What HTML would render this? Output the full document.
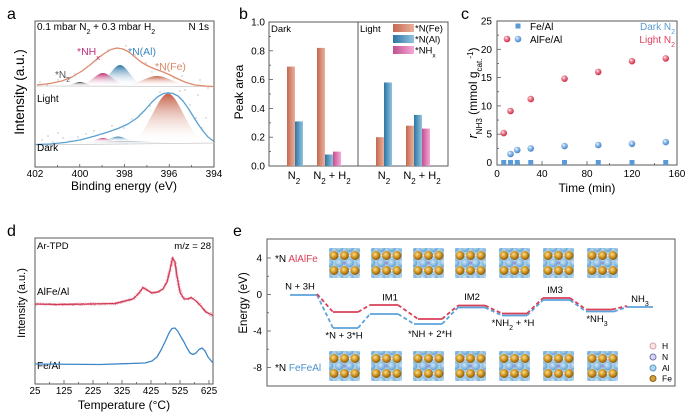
<!DOCTYPE html>
<html><head><meta charset="utf-8">
<style>
html,body{margin:0;padding:0;background:#fff;}
svg{display:block;font-family:"Liberation Sans",Arial,sans-serif;}
</style></head>
<body>
<svg width="700" height="419" viewBox="0 0 700 419" xmlns="http://www.w3.org/2000/svg">
<defs>
  <linearGradient id="fFe" x1="0" y1="0" x2="0" y2="1"><stop offset="0" stop-color="#c45f45"/><stop offset="1" stop-color="#fff" stop-opacity="0"/></linearGradient>
  <linearGradient id="fAl" x1="0" y1="0" x2="0" y2="1"><stop offset="0" stop-color="#2a76a8"/><stop offset="1" stop-color="#fff" stop-opacity="0"/></linearGradient>
  <linearGradient id="fNH" x1="0" y1="0" x2="0" y2="1"><stop offset="0" stop-color="#c02a6c"/><stop offset="1" stop-color="#fff" stop-opacity="0"/></linearGradient>
  <linearGradient id="fN2" x1="0" y1="0" x2="0" y2="1"><stop offset="0" stop-color="#3a3a3a"/><stop offset="1" stop-color="#fff" stop-opacity="0"/></linearGradient>
  <linearGradient id="fGr" x1="0" y1="0" x2="0" y2="1"><stop offset="0" stop-color="#9aa8b4"/><stop offset="1" stop-color="#fff" stop-opacity="0"/></linearGradient>
  <linearGradient id="bFe" x1="0" y1="0" x2="1" y2="0"><stop offset="0" stop-color="#c46850"/><stop offset="1" stop-color="#eab09c"/></linearGradient>
  <linearGradient id="bAl" x1="0" y1="0" x2="1" y2="0"><stop offset="0" stop-color="#2c76a4"/><stop offset="1" stop-color="#92c3df"/></linearGradient>
  <linearGradient id="bNH" x1="0" y1="0" x2="1" y2="0"><stop offset="0" stop-color="#c0508e"/><stop offset="1" stop-color="#f7a8d8"/></linearGradient>
  <radialGradient id="sR" cx="0.38" cy="0.35" r="0.7"><stop offset="0" stop-color="#fff"/><stop offset="0.3" stop-color="#f0909e"/><stop offset="1" stop-color="#c8203c"/></radialGradient>
  <radialGradient id="sB" cx="0.38" cy="0.35" r="0.7"><stop offset="0" stop-color="#fff"/><stop offset="0.3" stop-color="#a0c8ee"/><stop offset="1" stop-color="#3a7cc4"/></radialGradient>
  <radialGradient id="gFeA" cx="0.4" cy="0.38" r="0.62"><stop offset="0" stop-color="#fbe08a"/><stop offset="0.5" stop-color="#d49a28"/><stop offset="1" stop-color="#8a5a0a"/></radialGradient>
  <radialGradient id="gAlA" cx="0.4" cy="0.38" r="0.65"><stop offset="0" stop-color="#cfe6f6"/><stop offset="1" stop-color="#5f9fd0"/></radialGradient>
  <filter id="noise" x="-5%" y="-20%" width="110%" height="140%">
    <feTurbulence type="fractalNoise" baseFrequency="0.9" numOctaves="1" seed="3"/>
    <feDisplacementMap in="SourceGraphic" scale="4" xChannelSelector="R" yChannelSelector="G"/>
  </filter>
  <symbol id="xt" viewBox="0 0 31 30">
    <rect x="0" y="0" width="31" height="30" fill="#a8cde8"/>
    <g fill="url(#gAlA)">
      <circle cx="0" cy="15" r="4.2"/><circle cx="10.3" cy="15" r="4.2"/><circle cx="20.7" cy="15" r="4.2"/><circle cx="31" cy="15" r="4.2"/>
      <circle cx="10.3" cy="0" r="4"/><circle cx="20.7" cy="0" r="4"/><circle cx="10.3" cy="30" r="4"/><circle cx="20.7" cy="30" r="4"/>
      <circle cx="0" cy="0" r="3.5"/><circle cx="31" cy="0" r="3.5"/><circle cx="0" cy="30" r="3.5"/><circle cx="31" cy="30" r="3.5"/>
    </g>
    <g fill="url(#gFeA)">
      <circle cx="5" cy="7.5" r="4.5"/><circle cx="15.5" cy="7.5" r="4.5"/><circle cx="26" cy="7.5" r="4.5"/>
      <circle cx="5" cy="22.5" r="4.5"/><circle cx="15.5" cy="22.5" r="4.5"/><circle cx="26" cy="22.5" r="4.5"/>
    </g>
    <g fill="#f6e2e6">
      <circle cx="10.3" cy="7.5" r="1"/><circle cx="20.7" cy="7.5" r="1"/><circle cx="10.3" cy="22.5" r="1"/><circle cx="20.7" cy="22.5" r="1"/>
    </g>
    <circle cx="15.5" cy="15" r="1.6" fill="#9a96d8"/>
  </symbol>
</defs>

<!-- ================= Panel a ================= -->
<text x="7" y="19" font-size="16">a</text>
<rect x="35" y="21" width="179" height="146" fill="none" stroke="#5a5a5a" stroke-width="1"/>
<line x1="35" y1="86" x2="214" y2="86.5" stroke="#c8c8c8" stroke-width="0.8"/>
<line x1="35" y1="145" x2="214" y2="143" stroke="#c8c8c8" stroke-width="0.8"/>
<path d="M118,86 C136.2,86 146.6,76 157,76 S177.8,86 196,86 Z" fill="url(#fFe)"/>
<path d="M62,86 C70.4,86 75.2,82 80,82 S89.6,86 98,86 Z" fill="url(#fN2)"/>
<path d="M76,86 C88.6,86 95.8,73 103,73 S117.4,86 130,86 Z" fill="url(#fNH)"/>
<path d="M93,86 C105.6,86 112.8,65 120,65 S134.4,86 147,86 Z" fill="url(#fAl)"/>
<polyline fill="none" stroke="#e08a6e" stroke-width="1.3" stroke-linejoin="round" points="37,85 50,83.5 62,81 72,77 82,71 90,65 98,58 105,53 111,49.5 117,48 123,49 129,52 135,57 141,62 148,66 155,69 162,71.5 170,75 178,79 186,82.5 195,85 205,86 214,86.5"/>
<path d="M50,143.5 C85,143.5 105,141 125,141 S165,143.5 200,143.5 Z" fill="url(#fGr)"/>
<path d="M126,143.5 C145.6,143.5 156.8,93.5 168,93.5 S190.4,143.5 210,143.5 Z" fill="url(#fFe)"/>
<path d="M85,142 C93.4,142 98.2,138 103,138 S112.6,142 121,142 Z" fill="url(#fNH)"/>
<path d="M97,141.5 C106.8,141.5 112.4,136.5 118,136.5 S129.2,141.5 139,141.5 Z" fill="url(#fAl)"/>
<polyline fill="none" stroke="#5ba0d2" stroke-width="1.3" stroke-linejoin="round" points="35,144.5 50,144 65,142.5 80,140 95,136 108,132 118,128.5 128,124 137,118 145,110 152,102 158,96.5 163,93.8 168,92.8 173,93.5 178,96 183,101 188,108 193,116 198,124 203,131 208,137 214,141.5"/>
<g fill="#b8b8b8">
  <circle cx="40" cy="82" r="0.7"/><circle cx="47" cy="85" r="0.7"/><circle cx="58" cy="80" r="0.7"/><circle cx="66" cy="77" r="0.7"/>
  <circle cx="75" cy="74" r="0.7"/><circle cx="88" cy="66" r="0.7"/><circle cx="96" cy="61" r="0.7"/><circle cx="108" cy="50" r="0.7"/>
  <circle cx="126" cy="46" r="0.7"/><circle cx="135" cy="55" r="0.7"/><circle cx="146" cy="63" r="0.7"/><circle cx="152" cy="72" r="0.7"/>
  <circle cx="165" cy="70" r="0.7"/><circle cx="174" cy="78" r="0.7"/><circle cx="182" cy="76" r="0.7"/><circle cx="190" cy="84" r="0.7"/>
  <circle cx="200" cy="80" r="0.7"/><circle cx="208" cy="88" r="0.7"/><circle cx="198" cy="95" r="0.7"/><circle cx="185" cy="90" r="0.7"/>
  <circle cx="42" cy="140" r="0.7"/><circle cx="48" cy="136" r="0.7"/><circle cx="53" cy="142" r="0.7"/><circle cx="58" cy="133" r="0.7"/>
  <circle cx="63" cy="138" r="0.7"/><circle cx="70" cy="141" r="0.7"/><circle cx="78" cy="137" r="0.7"/><circle cx="86" cy="134" r="0.7"/>
  <circle cx="94" cy="131" r="0.7"/><circle cx="100" cy="134" r="0.7"/><circle cx="112" cy="126" r="0.7"/><circle cx="124" cy="128" r="0.7"/>
  <circle cx="132" cy="119" r="0.7"/><circle cx="140" cy="114" r="0.7"/><circle cx="150" cy="106" r="0.7"/><circle cx="180" cy="91" r="0.7"/>
  <circle cx="190" cy="105" r="0.7"/><circle cx="196" cy="118" r="0.7"/><circle cx="202" cy="128" r="0.7"/><circle cx="206" cy="118" r="0.7"/>
  <circle cx="210" cy="138" r="0.7"/><circle cx="160" cy="92" r="0.7"/>
</g>
<text x="37" y="30" font-size="10">0.1 mbar N<tspan font-size="7" baseline-shift="sub">2</tspan> + 0.3 mbar H<tspan font-size="7" baseline-shift="sub">2</tspan></text>
<text x="209" y="30" font-size="10" text-anchor="end">N 1s</text>
<text x="77" y="55" font-size="10.5" fill="#c2307a">*NH<tspan font-size="7.5" baseline-shift="sub">x</tspan></text>
<text x="128" y="55" font-size="10.5" fill="#3a86c0">*N(Al)</text>
<text x="155" y="70" font-size="10.5" fill="#d88868">*N(Fe)</text>
<text x="55" y="78" font-size="10" fill="#555">*N<tspan font-size="7" baseline-shift="sub">2</tspan></text>
<text x="37" y="102" font-size="10">Light</text>
<text x="37" y="151" font-size="10">Dark</text>
<g stroke="#5a5a5a" stroke-width="0.8">
  <line x1="57.4" y1="167" x2="57.4" y2="165"/><line x1="79.75" y1="167" x2="79.75" y2="164"/><line x1="102.1" y1="167" x2="102.1" y2="165"/>
  <line x1="124.5" y1="167" x2="124.5" y2="164"/><line x1="146.9" y1="167" x2="146.9" y2="165"/><line x1="169.25" y1="167" x2="169.25" y2="164"/>
  <line x1="191.6" y1="167" x2="191.6" y2="165"/>
</g>
<g font-size="10" text-anchor="middle">
  <text x="35" y="177">402</text><text x="80" y="177">400</text><text x="124.5" y="177">398</text><text x="169" y="177">396</text><text x="214" y="177">394</text>
</g>
<text x="124" y="190" font-size="12" text-anchor="middle">Binding energy (eV)</text>
<text transform="translate(24,92) rotate(-90)" font-size="13.5" text-anchor="middle">Intensity (a.u.)</text>

<!-- ================= Panel b ================= -->
<text x="239" y="19" font-size="16">b</text>
<rect x="269" y="22" width="179" height="144" fill="none" stroke="#5a5a5a" stroke-width="1"/>
<line x1="358" y1="22" x2="358" y2="166" stroke="#5a5a5a" stroke-width="1"/>
<rect x="287" y="66.6" width="8" height="99.4" fill="url(#bFe)"/>
<rect x="295" y="121.4" width="8" height="44.6" fill="url(#bAl)"/>
<rect x="317" y="47.9" width="8" height="118.1" fill="url(#bFe)"/>
<rect x="325" y="154.5" width="8" height="11.5" fill="url(#bAl)"/>
<rect x="333" y="151.6" width="8" height="14.4" fill="url(#bNH)"/>
<rect x="376" y="137.2" width="8" height="28.8" fill="url(#bFe)"/>
<rect x="384" y="82.5" width="8" height="83.5" fill="url(#bAl)"/>
<rect x="406" y="125.7" width="8" height="40.3" fill="url(#bFe)"/>
<rect x="414" y="114.9" width="8" height="51.1" fill="url(#bAl)"/>
<rect x="422" y="128.6" width="8" height="37.4" fill="url(#bNH)"/>
<g stroke="#5a5a5a" stroke-width="0.8">
  <line x1="269" y1="137.2" x2="273" y2="137.2"/><line x1="269" y1="108.4" x2="273" y2="108.4"/><line x1="269" y1="79.6" x2="273" y2="79.6"/><line x1="269" y1="50.8" x2="273" y2="50.8"/>
  <line x1="269" y1="151.6" x2="271" y2="151.6"/><line x1="269" y1="122.8" x2="271" y2="122.8"/><line x1="269" y1="94" x2="271" y2="94"/><line x1="269" y1="65.2" x2="271" y2="65.2"/><line x1="269" y1="36.4" x2="271" y2="36.4"/>
</g>
<g font-size="10" text-anchor="end">
  <text x="265" y="169.5">0.0</text><text x="265" y="140.7">0.2</text><text x="265" y="111.9">0.4</text><text x="265" y="83.1">0.6</text><text x="265" y="54.3">0.8</text><text x="265" y="25.5">1.0</text>
</g>
<text transform="translate(243,92) rotate(-90)" font-size="12" text-anchor="middle">Peak area</text>
<text x="271" y="32" font-size="9.5">Dark</text>
<text x="360" y="32" font-size="9.5">Light</text>
<rect x="393" y="24" width="21" height="8" fill="url(#bFe)"/>
<rect x="393" y="35" width="21" height="8" fill="url(#bAl)"/>
<rect x="393" y="46" width="21" height="8" fill="url(#bNH)"/>
<text x="415" y="31.5" font-size="9.5">*N(Fe)</text>
<text x="415" y="42.5" font-size="9.5">*N(Al)</text>
<text x="415" y="53.5" font-size="9.5">*NH<tspan font-size="6.5" baseline-shift="sub">x</tspan></text>
<g font-size="11" text-anchor="middle">
  <text x="294" y="179">N<tspan font-size="8" baseline-shift="sub">2</tspan></text>
  <text x="332" y="179">N<tspan font-size="8" baseline-shift="sub">2</tspan> + H<tspan font-size="8" baseline-shift="sub">2</tspan></text>
  <text x="384" y="179">N<tspan font-size="8" baseline-shift="sub">2</tspan></text>
  <text x="422" y="179">N<tspan font-size="8" baseline-shift="sub">2</tspan> + H<tspan font-size="8" baseline-shift="sub">2</tspan></text>
</g>

<!-- ================= Panel c ================= -->
<text x="461" y="19" font-size="16">c</text>
<rect x="497" y="21" width="180" height="144" fill="none" stroke="#5a5a5a" stroke-width="1"/>
<g stroke="#5a5a5a" stroke-width="0.8">
  <line x1="497" y1="134.2" x2="501" y2="134.2"/><line x1="497" y1="105.9" x2="501" y2="105.9"/><line x1="497" y1="77.6" x2="501" y2="77.6"/><line x1="497" y1="49.3" x2="501" y2="49.3"/>
  <line x1="497" y1="148.35" x2="499" y2="148.35"/><line x1="497" y1="120.05" x2="499" y2="120.05"/><line x1="497" y1="91.75" x2="499" y2="91.75"/><line x1="497" y1="63.45" x2="499" y2="63.45"/><line x1="497" y1="35.15" x2="499" y2="35.15"/>
  <line x1="542" y1="165" x2="542" y2="161"/><line x1="587" y1="165" x2="587" y2="161"/><line x1="632" y1="165" x2="632" y2="161"/>
  <line x1="519.5" y1="165" x2="519.5" y2="163"/><line x1="564.5" y1="165" x2="564.5" y2="163"/><line x1="609.5" y1="165" x2="609.5" y2="163"/><line x1="654.5" y1="165" x2="654.5" y2="163"/>
</g>
<g font-size="10" text-anchor="end">
  <text x="492" y="166">0</text><text x="492" y="137.7">5</text><text x="492" y="109.4">10</text><text x="492" y="81.1">15</text><text x="492" y="52.8">20</text><text x="492" y="24.5">25</text>
</g>
<g font-size="10" text-anchor="middle">
  <text x="497" y="177">0</text><text x="542" y="177">40</text><text x="587" y="177">80</text><text x="632" y="177">120</text><text x="677" y="177">160</text>
</g>
<text x="587" y="192" font-size="12" text-anchor="middle">Time (min)</text>
<text transform="translate(477,93) rotate(-90)" font-size="12" text-anchor="middle"><tspan font-style="italic" font-size="13">r</tspan><tspan font-size="8" baseline-shift="sub">NH3</tspan> (mmol g<tspan font-size="8" baseline-shift="sub">cat.</tspan><tspan font-size="8" baseline-shift="super">-1</tspan>)</text>
<g fill="#5b9bd5">
  <rect x="501.25" y="160" width="5" height="5"/><rect x="508" y="160" width="5" height="5"/><rect x="514.75" y="160" width="5" height="5"/><rect x="528.25" y="160" width="5" height="5"/>
  <rect x="562" y="160" width="5" height="5"/><rect x="595.75" y="160" width="5" height="5"/><rect x="629.5" y="160" width="5" height="5"/><rect x="663.25" y="160" width="5" height="5"/>
</g>
<g fill="url(#sR)">
  <circle cx="503.75" cy="133.1" r="3.3"/><circle cx="510.5" cy="111" r="3.3"/><circle cx="530.75" cy="99.1" r="3.3"/><circle cx="564.5" cy="78.7" r="3.3"/>
  <circle cx="598.25" cy="71.9" r="3.3"/><circle cx="632" cy="61.2" r="3.3"/><circle cx="665.75" cy="58.4" r="3.3"/>
  <circle cx="507" cy="39" r="3.3"/>
</g>
<g fill="url(#sB)">
  <circle cx="510.5" cy="154" r="3.3"/><circle cx="517.25" cy="150" r="3.3"/><circle cx="530.75" cy="148.4" r="3.3"/><circle cx="564.5" cy="146.1" r="3.3"/>
  <circle cx="598.25" cy="145" r="3.3"/><circle cx="632" cy="143.8" r="3.3"/><circle cx="665.75" cy="142.1" r="3.3"/>
  <circle cx="518" cy="39" r="3.3"/>
</g>
<rect x="515.5" y="23.5" width="5" height="5" fill="#5b9bd5"/>
<text x="530" y="30" font-size="10">Fe/Al</text>
<text x="530" y="43" font-size="10">AlFe/Al</text>
<text x="675" y="30" font-size="10" text-anchor="end" fill="#5b9bd5">Dark N<tspan font-size="7" baseline-shift="sub">2</tspan></text>
<text x="675" y="43" font-size="10" text-anchor="end" fill="#e0405e">Light N<tspan font-size="7" baseline-shift="sub">2</tspan></text>

<!-- ================= Panel d ================= -->
<text x="7" y="236" font-size="16">d</text>
<rect x="35" y="238" width="178" height="146" fill="none" stroke="#5a5a5a" stroke-width="1"/>
<g stroke="#5a5a5a" stroke-width="0.8">
  <line x1="64" y1="384" x2="64" y2="380"/><line x1="93" y1="384" x2="93" y2="380"/><line x1="122" y1="384" x2="122" y2="380"/><line x1="151" y1="384" x2="151" y2="380"/><line x1="180" y1="384" x2="180" y2="380"/><line x1="209" y1="384" x2="209" y2="380"/>
  <line x1="49.5" y1="384" x2="49.5" y2="382"/><line x1="78.5" y1="384" x2="78.5" y2="382"/><line x1="107.5" y1="384" x2="107.5" y2="382"/><line x1="136.5" y1="384" x2="136.5" y2="382"/><line x1="165.5" y1="384" x2="165.5" y2="382"/><line x1="194.5" y1="384" x2="194.5" y2="382"/>
</g>
<g font-size="9.8" text-anchor="middle">
  <text x="35" y="394">25</text><text x="64" y="394">125</text><text x="93" y="394">225</text><text x="122" y="394">325</text><text x="151" y="394">425</text><text x="180" y="394">525</text><text x="209" y="394">625</text>
</g>
<text x="124" y="409" font-size="12" text-anchor="middle">Temperature (°C)</text>
<text transform="translate(25,303) rotate(-90)" font-size="11" text-anchor="middle">Intensity (a.u.)</text>
<text x="37" y="249" font-size="9.5">Ar-TPD</text>
<text x="211" y="249" font-size="9.5" text-anchor="end">m/z = 28</text>
<text x="37" y="295" font-size="10">AlFe/Al</text>
<text x="37" y="369" font-size="10">Fe/Al</text>
<polyline fill="none" stroke="#e07a8e" stroke-width="2.2" stroke-linejoin="round" opacity="0.7" filter="url(#noise)" points="35,304 60,304.5 90,304 115,303.5 125,301 133,299 139,293 143,287.5 147,290 152,293 158,292 163,289 167,282 170,270 172.5,258 175,262 177,276 180,292 184,299 188,299 191,297.5 195,300 200,305 206,312 213,315.5"/>
<polyline fill="none" stroke="#d23c58" stroke-width="1.2" stroke-linejoin="round" points="35,304 60,304.5 90,304 115,303.5 125,301 133,299 139,293 143,287.5 147,290 152,293 158,292 163,289 167,282 170,270 172.5,258 175,262 177,276 180,292 184,299 188,299 191,297.5 195,300 200,305 206,312 213,315.5"/>
<polyline fill="none" stroke="#3e86c8" stroke-width="1.3" stroke-linejoin="round" points="35,364 100,364.5 130,363.5 145,363 152,361 157,357 161,350 165,342 169,333 172,328.5 175,328 178,331.5 181,337 184,342 187,348 190,353 193,354.5 196,353 199,349.5 202,348 205,351 208,357 213,363"/>

<!-- ================= Panel e ================= -->
<text x="233" y="236" font-size="16">e</text>
<rect x="267" y="239" width="408" height="147" fill="none" stroke="#5a5a5a" stroke-width="1"/>
<g stroke="#5a5a5a" stroke-width="0.8">
  <line x1="267" y1="258" x2="271" y2="258"/><line x1="267" y1="294.5" x2="271" y2="294.5"/><line x1="267" y1="331" x2="271" y2="331"/><line x1="267" y1="367.5" x2="271" y2="367.5"/>
  <line x1="267" y1="276.25" x2="269" y2="276.25"/><line x1="267" y1="312.75" x2="269" y2="312.75"/><line x1="267" y1="349.25" x2="269" y2="349.25"/>
</g>
<g font-size="10" text-anchor="end">
  <text x="262" y="261.5">4</text><text x="262" y="298">0</text><text x="262" y="334.5">-4</text><text x="262" y="371">-8</text>
</g>
<text transform="translate(247,303) rotate(-90)" font-size="11.5" text-anchor="middle">Energy (eV)</text>
<text x="275" y="262" font-size="10">*N <tspan fill="#d8405a">AlAlFe</tspan></text>
<text x="275" y="371" font-size="10">*N <tspan fill="#4a90d0">FeFeAl</tspan></text>
<use href="#xt" x="329" y="248" width="31" height="30"/>
<use href="#xt" x="371" y="248" width="31" height="30"/>
<use href="#xt" x="413" y="248" width="31" height="30"/>
<use href="#xt" x="455" y="248" width="31" height="30"/>
<use href="#xt" x="499" y="248" width="31" height="30"/>
<use href="#xt" x="543" y="248" width="31" height="30"/>
<use href="#xt" x="587" y="248" width="31" height="30"/>
<use href="#xt" x="329" y="351" width="31" height="30"/>
<use href="#xt" x="371" y="351" width="31" height="30"/>
<use href="#xt" x="413" y="351" width="31" height="30"/>
<use href="#xt" x="455" y="351" width="31" height="30"/>
<use href="#xt" x="499" y="351" width="31" height="30"/>
<use href="#xt" x="543" y="351" width="31" height="30"/>
<use href="#xt" x="587" y="351" width="31" height="30"/>
<g stroke="#5ba3dc" stroke-width="1.8" fill="none">
  <line x1="290" y1="295" x2="317" y2="295"/>
  <line x1="333" y1="328" x2="358" y2="328"/>
  <line x1="370" y1="314" x2="398" y2="314"/>
  <line x1="414" y1="324" x2="442" y2="324"/>
  <line x1="458" y1="307.5" x2="485" y2="307.5"/>
  <line x1="502" y1="315.5" x2="527" y2="315.5"/>
  <line x1="543" y1="300" x2="570" y2="300"/>
  <line x1="586" y1="311.5" x2="614" y2="311.5"/>
  <line x1="627" y1="307" x2="653" y2="307"/>
  <polyline stroke-dasharray="4 2.5" points="317,295 333,328"/>
  <polyline stroke-dasharray="4 2.5" points="358,328 370,314"/>
  <polyline stroke-dasharray="4 2.5" points="398,314 414,324"/>
  <polyline stroke-dasharray="4 2.5" points="442,324 458,307.5"/>
  <polyline stroke-dasharray="4 2.5" points="485,307.5 502,315.5"/>
  <polyline stroke-dasharray="4 2.5" points="527,315.5 543,300"/>
  <polyline stroke-dasharray="4 2.5" points="570,300 586,311.5"/>
  <polyline stroke-dasharray="4 2.5" points="614,311.5 627,307"/>
</g>
<g stroke="#d8405a" stroke-width="1.8" fill="none">
  <line x1="333" y1="312" x2="358" y2="312"/>
  <line x1="370" y1="305" x2="398" y2="305"/>
  <line x1="418" y1="319" x2="442" y2="319"/>
  <line x1="458" y1="305.5" x2="485" y2="305.5"/>
  <line x1="502" y1="313.5" x2="527" y2="313.5"/>
  <line x1="543" y1="298" x2="570" y2="298"/>
  <line x1="586" y1="309.5" x2="612" y2="309.5"/>
  <polyline stroke-dasharray="4 2.5" points="317,294 333,312"/>
  <polyline stroke-dasharray="4 2.5" points="358,312 370,305"/>
  <polyline stroke-dasharray="4 2.5" points="398,305 418,319"/>
  <polyline stroke-dasharray="4 2.5" points="442,319 458,305.5"/>
  <polyline stroke-dasharray="4 2.5" points="485,305.5 502,313.5"/>
  <polyline stroke-dasharray="4 2.5" points="527,313.5 543,298"/>
  <polyline stroke-dasharray="4 2.5" points="570,298 586,309.5"/>
  <polyline stroke-dasharray="4 2.5" points="612,309.5 627,306"/>
</g>
<g font-size="9.5" text-anchor="middle">
  <text x="300" y="289.5">N + 3H</text>
  <text x="344" y="338.5">*N + 3*H</text>
  <text x="390" y="300.5">IM1</text>
  <text x="430" y="337">*NH + 2*H</text>
  <text x="472" y="300">IM2</text>
  <text x="513" y="326">*NH<tspan font-size="7" baseline-shift="sub">2</tspan> + *H</text>
  <text x="555" y="293">IM3</text>
  <text x="597" y="322">*NH<tspan font-size="7" baseline-shift="sub">3</tspan></text>
  <text x="640" y="302">NH<tspan font-size="7" baseline-shift="sub">3</tspan></text>
</g>
<circle cx="653" cy="346" r="3" fill="#f8e6e6" stroke="#d8a0a0" stroke-width="1"/>
<circle cx="653" cy="357" r="3" fill="#d6d6f4" stroke="#7474b4" stroke-width="1"/>
<circle cx="653" cy="368" r="3" fill="#b0d4ee" stroke="#5a9ac8" stroke-width="1"/>
<circle cx="653" cy="378.5" r="3" fill="#d4a040" stroke="#8a6010" stroke-width="1"/>
<g font-size="8.5">
  <text x="662" y="349">H</text><text x="662" y="360">N</text><text x="662" y="371">Al</text><text x="662" y="381.5">Fe</text>
</g>
</svg>
</body></html>
